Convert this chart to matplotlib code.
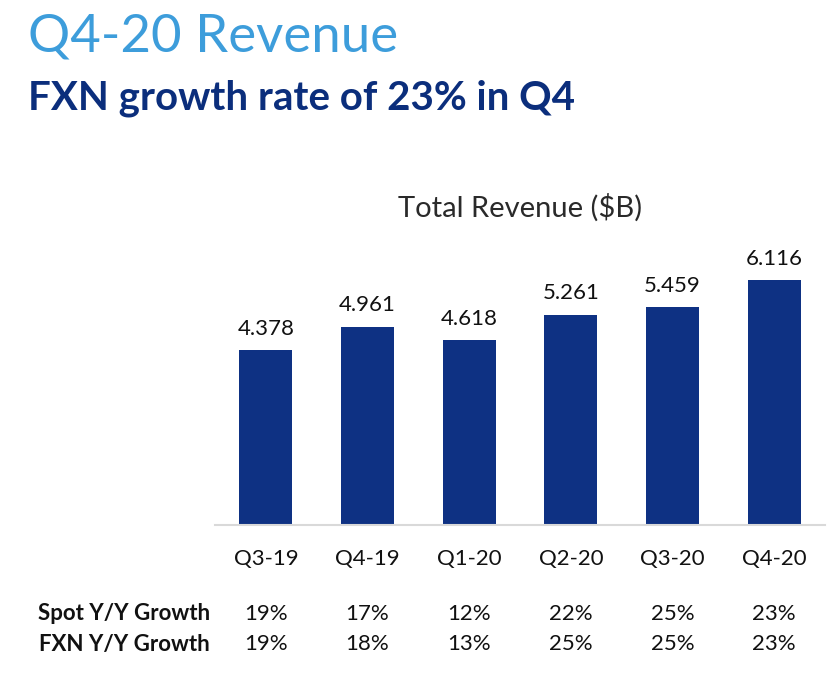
import matplotlib
matplotlib.use("Agg")
import matplotlib.pyplot as plt

categories = ["Q3-19", "Q4-19", "Q1-20", "Q2-20", "Q3-20", "Q4-20"]
revenue = [4.378, 4.961, 4.618, 5.261, 5.459, 6.116]
spot_growth = ["19%", "17%", "12%", "22%", "25%", "23%"]
fxn_growth = ["19%", "18%", "13%", "25%", "25%", "23%"]
row_labels = ["Spot Y/Y Growth", "FXN Y/Y Growth"]

W, H = 840, 680
plt.rcParams['font.family'] = ['Lato', 'DejaVu Sans']
fig = plt.figure(figsize=(W / 100, H / 100), dpi=100)
fig.patch.set_facecolor("white")

def fx(px):
    return px / W

def fy(py):
    return 1 - py / H

NAVY = "#0e3183"
LIGHT = "#3d9ddb"

fig.text(fx(28), fy(37), "Q4-20 Revenue", color=LIGHT, fontsize=38, va="center", ha="left")
fig.text(fx(28), fy(98), "FXN growth rate of 23% in Q4", color="#0b2e7c", fontsize=29,
         fontweight="bold", va="center", ha="left")

ax_left, ax_right, ax_bottom, ax_top = 215, 825, 525, 245
ax = fig.add_axes([fx(ax_left), fy(ax_bottom), fx(ax_right - ax_left), (ax_bottom - ax_top) / H])
x = list(range(len(categories)))
ax.bar(x, revenue, width=0.52, color=NAVY)
ax.set_xlim(-0.5, 5.5)
ax.set_ylim(0, 7)
for s in ["top", "right", "left"]:
    ax.spines[s].set_visible(False)
ax.spines["bottom"].set_color("#d9d9d9")
ax.spines["bottom"].set_linewidth(1.5)
ax.set_yticks([])
ax.set_xticks(x)
ax.set_xticklabels(categories, fontsize=16, color="#111111")
ax.tick_params(axis="x", length=0, pad=17)
for xi, v in zip(x, revenue):
    ax.annotate(f"{v:.3f}", (xi, v), xytext=(0, 8), textcoords="offset points",
                ha="center", va="bottom", fontsize=16, color="#111111")

fig.text(fx(520), fy(208), "Total Revenue ($B)", fontsize=21, fontweight="normal",
         color="#2a2a2a", ha="center", va="center")

for row_y, label, vals in [(614, row_labels[0], spot_growth), (644, row_labels[1], fxn_growth)]:
    fig.text(fx(210), fy(row_y), label, fontsize=16, fontweight="bold", color="#111111",
             ha="right", va="center")
    for xi, v in zip(x, vals):
        px = ax_left + (xi + 0.5) / 6 * (ax_right - ax_left)
        fig.text(fx(px), fy(row_y), v, fontsize=16, color="#111111", ha="center", va="center")

fig.savefig("out.png", dpi=100, facecolor="white")
